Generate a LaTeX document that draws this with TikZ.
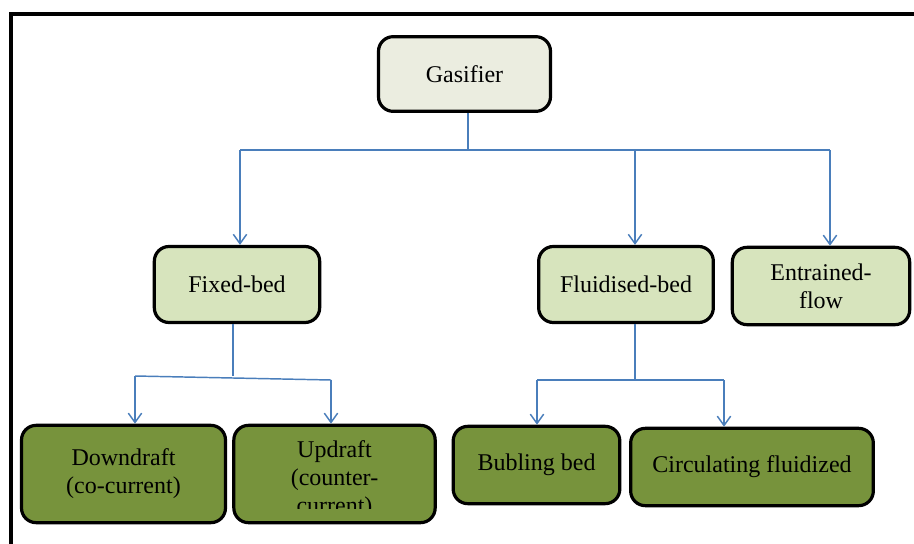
\documentclass[tikz,border=0pt]{standalone}
\usepackage{fontspec}
\setmainfont{Liberation Serif}
\usetikzlibrary{arrows.meta, positioning, calc}
\definecolor{gasfill}{HTML}{EBEDE0}
\definecolor{bedfill}{HTML}{D7E4BD}
\definecolor{subfill}{HTML}{77933C}
\definecolor{linkblue}{HTML}{4A7EBB}

\begin{document}
\begin{tikzpicture}[x=0.75pt, y=-0.75pt,
        box/.style={rectangle, draw, rounded corners=11pt, line width=2.4pt, inner sep=0pt, align=center, font=\fontsize{18}{21}\selectfont},
        gasbox/.style={box, fill=gasfill},
        bedbox/.style={box, fill=bedfill},
        subbox/.style={box, fill=subfill},
        link/.style={linkblue, line width=1.1pt},
        arrow/.style={link, -{Straight Barb[length=7pt, width=10pt, line width=1.1pt]}}
    ]
        \useasboundingbox (0,0) rectangle (914,543);

        % Frame
        \draw[line width=2.5pt] (11,560) -- (11,14) -- (930,14);

        % Gasifier
        \node[gasbox, minimum width=129pt, minimum height=56pt] (gasifier) at (464.5,74) {Gasifier};

        % Bed types
        \node[bedbox, minimum width=124pt, minimum height=57pt] (fixed) at (237,284.5) {Fixed-bed};
        \node[bedbox, minimum width=131pt, minimum height=57pt] (fluid) at (626,284.5) {Fluidised-bed};
        \node[bedbox, minimum width=133pt, minimum height=58pt] (entrained) at (821,286) {Entrained-\\flow};

        % Fixed-bed types
        \node[subbox, minimum width=153pt, minimum height=73pt] (down) at (123.5,474) {Downdraft\\(co-current)};
        \node[subbox, minimum width=151pt, minimum height=73pt] (up) at (334.5,474) {};
        \begin{scope}
            \clip (232,424) rectangle (437,508);
            \node[font=\fontsize{18}{21}\selectfont, align=center] (uptext) at (334.5,480) {Updraft\\(counter-\\current)};
        \end{scope}

        % Fluidised-bed types
        \node[subbox, minimum width=125pt, minimum height=58pt] (bubling) at (536.5,465) {Bubling bed};
        \node[subbox, minimum width=182pt, minimum height=58pt] (circ) at (752,467) {Circulating fluidized};

        % Gasifier branches
        \coordinate (gbus) at (468,150);
        \coordinate (gleft) at (240,150);
        \coordinate (gmid) at (635,150);
        \coordinate (gright) at (830,150);
        \draw[link] (gbus |- gasifier.south) -- (gbus);
        \draw[link] (gleft) -- (gright);
        \draw[arrow] (gleft) -- (gleft |- fixed.north);
        \draw[arrow] (gmid) -- (gmid |- fluid.north);
        \draw[arrow] (gright) -- (gright |- entrained.north);

        % Fixed-bed branches
        \coordinate (fbus) at (233,376);
        \coordinate (fleft) at (135,376);
        \coordinate (fright) at (331,380);
        \draw[link] (fbus |- fixed.south) -- (fbus);
        \draw[link] (fleft) -- (fright);
        \draw[arrow] (fleft) -- (fleft |- down.north);
        \draw[arrow] (fright) -- (fright |- up.north);

        % Fluidised-bed branches
        \coordinate (lbus) at (635,380);
        \coordinate (lleft) at (537,380);
        \coordinate (lright) at (724,380);
        \draw[link] (lbus |- fluid.south) -- (lbus);
        \draw[link] (lleft) -- (lright);
        \draw[arrow] (lleft) -- (lleft |- bubling.north);
        \draw[arrow] (lright) -- (lright |- circ.north);
    \end{tikzpicture}
\end{document}
